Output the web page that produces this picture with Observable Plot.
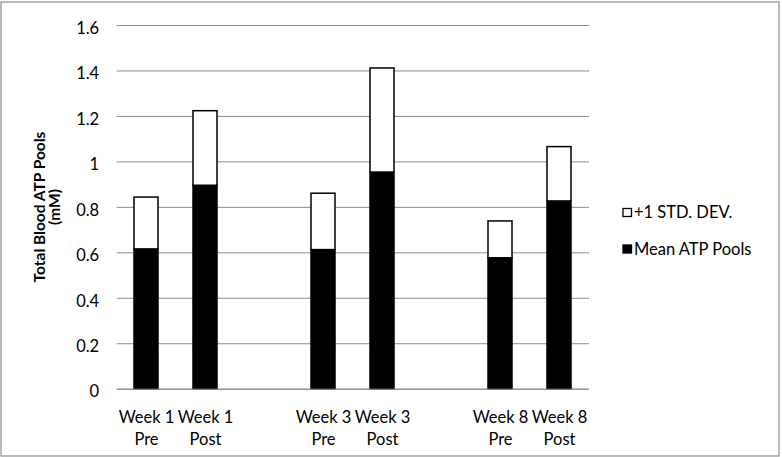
<!DOCTYPE html>
<html><head><meta charset="utf-8">
<script src="https://cdn.jsdelivr.net/npm/d3@7"></script>
<script src="https://cdn.jsdelivr.net/npm/@observablehq/plot@0.6"></script>
<style>body{margin:0;background:#fff;} svg{display:block;}</style>
</head><body><div id="chart"></div>
<script>
// x slots (gap placeholders keep the Excel-style spacing between weeks)
const categories = ["Week 1\nPre", "Week 1\nPost", "gap1", "Week 3\nPre", "Week 3\nPost", "gap2", "Week 8\nPre", "Week 8\nPost"];
const groups = ["Week 1\nPre", "Week 1\nPost", "Week 3\nPre", "Week 3\nPost", "Week 8\nPre", "Week 8\nPost"];
const meanATP = [0.615, 0.895, 0.612, 0.953, 0.576, 0.826];
const sdATP = [0.228, 0.328, 0.248, 0.458, 0.162, 0.239];
const yTicks = [0, 0.2, 0.4, 0.6, 0.8, 1, 1.2, 1.4, 1.6];
const seriesNames = ["+1 STD. DEV.", "Mean ATP Pools"];
const yTitle = ["Total Blood ATP Pools", "(mM)"];

const data = groups.map((g, i) => ({group: g, mean: meanATP[i], top: meanATP[i] + sdATP[i]}));
const FONT = "Lato, 'Open Sans', sans-serif";
const GRID = "#8c8c8c";

const chart = Plot.plot({
  width: 782, height: 457,
  marginLeft: 116.7, marginRight: 193, marginTop: 25, marginBottom: 68.3,
  style: {fontFamily: FONT, fontSize: "16px", color: "#000", background: "#fff"},
  x: {domain: categories, paddingInner: 0.59, paddingOuter: 0.295},
  y: {domain: [0, 1.6]},
  marks: [
    Plot.gridY(yTicks, {stroke: GRID, strokeOpacity: 1}),
    Plot.axisY(yTicks, {tickSize: 0, tickPadding: 18, tickFormat: d => String(d), label: null, dy: 3, fontSize: 16.5}),
    Plot.axisX({tickSize: 0, tickPadding: 19, tickFormat: d => d.startsWith("gap") ? "" : d, label: null, lineHeight: 1.3, fontSize: 16.5}),
    Plot.barY(data, {x: "group", y1: 0, y2: "mean", fill: "black", stroke: "black", strokeWidth: 1.5}),
    Plot.barY(data, {x: "group", y1: "mean", y2: "top", fill: "white", stroke: "black", strokeWidth: 1.5}),
    Plot.ruleY([0], {stroke: GRID})
  ]
});

const svg = d3.select(chart);
svg.insert("rect", ":first-child").attr("x", 1).attr("y", 2).attr("width", 778).attr("height", 454)
  .attr("fill", "white").attr("stroke", GRID).attr("stroke-width", 1.2);

// y-axis title (two lines, rotated)
const tt = svg.append("g").attr("font-family", FONT).attr("font-weight", "bold").attr("font-size", 14.5).attr("fill", "#000");
const t1 = tt.append("text").attr("text-anchor", "start").text(yTitle[0]);
const t2 = tt.append("text").attr("text-anchor", "start").text(yTitle[1]);

// legend
const lg = svg.append("g").attr("font-family", FONT).attr("font-size", 16.5).attr("fill", "#000").attr("text-anchor", "start");
lg.append("rect").attr("x", 623).attr("y", 208.5).attr("width", 8.5).attr("height", 8).attr("fill", "white").attr("stroke", "black").attr("stroke-width", 1.3);
lg.append("text").attr("x", 634).attr("y", 217.5).text(seriesNames[0]);
lg.append("rect").attr("x", 623).attr("y", 245).attr("width", 8.5).attr("height", 8).attr("fill", "black").attr("stroke", "black").attr("stroke-width", 1.3);
lg.append("text").attr("x", 634).attr("y", 254.5).text(seriesNames[1]);

document.getElementById("chart").append(chart);

// size the first title line to the reference length, then centre both lines
const w0 = t1.node().getComputedTextLength();
const fs = Math.min(15.5, Math.max(13, 14.5 * 162 / w0));
tt.attr("font-size", fs);
function place(sel, bx, cy) {
  const w = sel.node().getComputedTextLength();
  sel.attr("transform", `translate(${bx},${cy + w / 2}) rotate(-90)`);
}
place(t1, 45, 207);
place(t2, 60, 207);
</script></body></html>
